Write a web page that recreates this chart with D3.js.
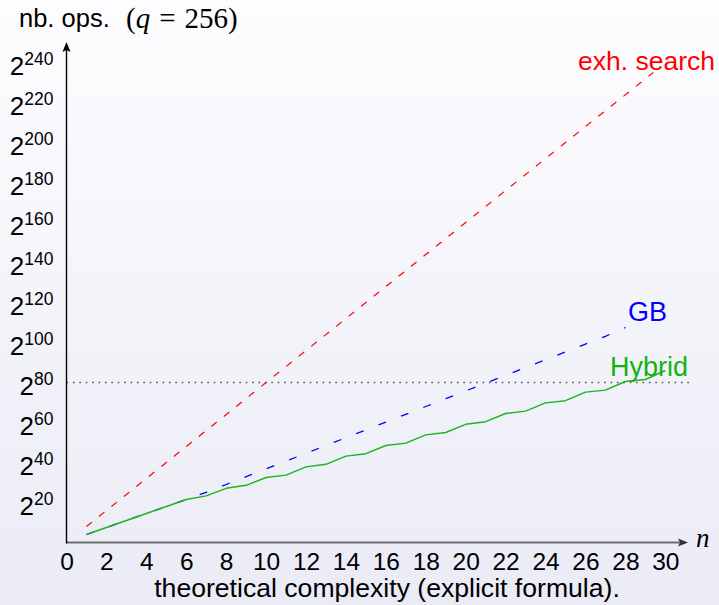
<!DOCTYPE html>
<html><head><meta charset="utf-8">
<script src="https://cdn.jsdelivr.net/npm/d3@7"></script>
<style>html,body{margin:0;padding:0;background:#fff}svg{display:block}</style>
</head><body>
<svg id="c" width="719" height="605"></svg>
<script>
// ---- data (log2 of number of operations, q = 256) ----
const xTicks = [0,2,4,6,8,10,12,14,16,18,20,22,24,26,28,30];
const yTicks = [20,40,60,80,100,120,140,160,180,200,220,240];
const exhN    = [1, 5, 10, 15, 20, 25, 29.4];
const exhLog2 = [8, 40, 80, 120, 160, 200, 235];
const gbN     = [1,2,3,4,5,6,7,8,9,10,11,12,13,14,15,16,17,18,19,20,21,22,23,24,25,26,27,28];
const gbLog2  = [4,7.5,11,14.5,18,21.5,25.1,29,32.9,36.8,40.7,44.6,48.5,52.4,56.3,60.2,64.1,68,71.9,75.8,79.7,83.6,87.5,91.4,95.3,99.2,103.1,107.5];
const hybN    = [1,2,3,4,5,6,7,8,9,10,11,12,13,14,15,16,17,18,19,20,21,22,23,24,25,26,27,28,29,30];
const hybLog2 = [4,7.5,11,14.5,18,21.5,23.3,27.1,28.6,32.5,33.7,37.8,39.1,43.2,44.4,48.5,49.7,53.8,55.0,59.1,60.4,64.5,65.7,69.8,70.9,75.2,76.2,80.5,81.5,86];
const threshold = 80;
const thresholdRange = [0, 31.2];

const svg = d3.select("#c");
const W = 719, H = 605;

// background gradient
const defs = svg.append("defs");
const g = defs.append("linearGradient").attr("id","bg").attr("x1",0).attr("y1",0).attr("x2",0).attr("y2",1);
g.append("stop").attr("offset","0%").attr("stop-color","#fdfdff");
g.append("stop").attr("offset","100%").attr("stop-color","#eaebf5");
svg.append("rect").attr("width",W).attr("height",H).attr("fill","url(#bg)");

const x = d3.scaleLinear().domain([0,30]).range([66.5,665.3]);
const y = d3.scaleLinear().domain([0,240]).range([542.5,62.5]);

const SANS = "'Liberation Sans', Arial, Helvetica, sans-serif";
const SERIF = "'Liberation Serif', 'Times New Roman', serif";

// threshold dotted line
svg.append("line")
  .attr("x1", x(thresholdRange[0])).attr("x2", x(thresholdRange[1]))
  .attr("y1", y(threshold)).attr("y2", y(threshold))
  .attr("stroke","#555").attr("stroke-width",1.6)
  .attr("stroke-dasharray","1.6,4.8");

const line = d3.line().x(d=>x(d[0])).y(d=>y(d[1]));
const zip = (a,b)=>a.map((v,i)=>[v,b[i]]);

svg.append("path").datum(zip(exhN,exhLog2)).attr("d",line)
  .attr("fill","none").attr("stroke","#ff0000").attr("stroke-width",1.2)
  .attr("stroke-dasharray","7,9");
svg.append("path").datum(zip(gbN,gbLog2)).attr("d",line)
  .attr("fill","none").attr("stroke","#0000ff").attr("stroke-width",1.3)
  .attr("stroke-dasharray","8,16");
svg.append("path").datum(zip(hybN,hybLog2)).attr("d",line)
  .attr("fill","none").attr("stroke","#1fb31f").attr("stroke-width",1.4)
  .attr("stroke-linejoin","round");

// axes lines with arrows
const x0 = x(0), yb = y(0);
svg.append("line").attr("x1",x0).attr("x2",680).attr("y1",yb).attr("y2",yb)
  .attr("stroke","#6e6e6e").attr("stroke-width",2.2);
svg.append("path").attr("d",`M688,${yb} L678,${yb-4} L680,${yb} L678,${yb+4} Z`).attr("fill","#333");
svg.append("line").attr("x1",x0).attr("x2",x0).attr("y1",yb+1).attr("y2",50)
  .attr("stroke","#000").attr("stroke-width",1.4);
svg.append("path").attr("d",`M${x0},42 L${x0-4},52 L${x0},50 L${x0+4},52 Z`).attr("fill","#000");

// x axis labels
const xa = svg.append("g").attr("transform",`translate(0,${yb})`)
  .call(d3.axisBottom(x).tickValues(xTicks).tickSize(0).tickFormat(d3.format("d")));
xa.select(".domain").remove();
xa.selectAll("text").attr("y",27.5).attr("dy",0)
  .attr("font-family",SANS).attr("font-size",24.5).attr("fill","#000");

// y axis labels 2^k
const ya = svg.append("g").attr("transform",`translate(${x0},0)`)
  .call(d3.axisLeft(y).tickValues(yTicks).tickSize(0).tickFormat(""));
ya.select(".domain").remove();
ya.selectAll(".tick text").each(function(d){
  const t = d3.select(this).text(null).attr("x",-13).attr("dy",0).attr("y",11.5)
    .attr("font-family",SANS).attr("fill","#000").attr("text-anchor","end");
  t.append("tspan").attr("font-size",26).text("2");
  t.append("tspan").attr("font-size",17.5).attr("dy",-9.5).text(d);
});

// titles
svg.append("text").attr("x",19).attr("y",27).attr("font-family",SANS).attr("font-size",25.5)
  .text("nb. ops.");
const qt = svg.append("text").attr("x",126).attr("y",28).attr("font-family",SERIF).attr("font-size",29);
qt.append("tspan").text("(");
qt.append("tspan").attr("font-style","italic").text("q");
qt.append("tspan").attr("dx",9).text("=");
qt.append("tspan").attr("dx",9).text("256)");
svg.append("text").attr("x",387).attr("y",597).attr("text-anchor","middle")
  .attr("font-family",SANS).attr("font-size",26.6).text("theoretical complexity (explicit formula).");
svg.append("text").attr("x",696).attr("y",547).attr("font-family",SERIF).attr("font-style","italic")
  .attr("font-size",27).text("n");

// series labels
svg.append("text").attr("x",578).attr("y",70).attr("font-family",SANS).attr("font-size",26.5)
  .attr("fill","#ff0000").text("exh. search");
svg.append("text").attr("x",628).attr("y",321).attr("font-family",SANS).attr("font-size",27)
  .attr("fill","#0000ff").text("GB");
svg.append("text").attr("x",610).attr("y",376).attr("font-family",SANS).attr("font-size",27)
  .attr("fill","#14b214").text("Hybrid");
</script>
</body></html>
